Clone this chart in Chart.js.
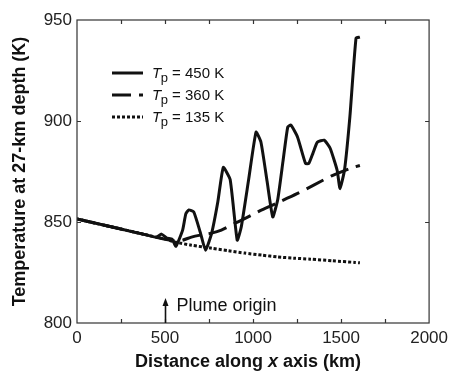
<!DOCTYPE html>
<html>
<head>
<meta charset="utf-8">
<script src="https://cdn.jsdelivr.net/npm/chart.js@4.4.0/dist/chart.umd.min.js"></script>
<style>
  html, body { margin: 0; padding: 0; background: #fff; }
  #wrap { width: 453px; height: 375px; }
</style>
</head>
<body>
<div id="wrap"><canvas id="tempChart" width="453" height="375"></canvas></div>
<script>
// axis ticks
var xTicks = [0, 500, 1000, 1500, 2000];
var yTicks = [800, 850, 900, 950];
var minorStep = 250;
var plumeOrigin = 500;

// legend labels (Tp values)
var seriesLabels = ['450 K', '360 K', '135 K'];

// Tp = 450 K
var dist450 = [0, 100, 200, 300, 400, 450, 480, 510, 540, 562, 600, 618, 635, 663, 700, 730, 765, 800, 831, 870, 910, 933, 975, 1017, 1045, 1080, 1112, 1140, 1170, 1197, 1215, 1253, 1298, 1317, 1340, 1365, 1404, 1438, 1478, 1494, 1520, 1550, 1585, 1607];
var temp450 = [851.5, 849.5, 847.5, 845.5, 843.5, 842.5, 844, 842, 841.5, 838, 846, 854, 856, 855, 845, 836, 844.5, 860, 877, 871, 841, 847.5, 871, 894.5, 889.5, 870, 852.5, 861, 880, 897, 898, 892, 879, 879, 884, 889.5, 890.5, 886.5, 875.5, 866.5, 876, 902, 941, 941.5];

// Tp = 360 K
var dist360 = [0, 200, 400, 500, 560, 600, 650, 700, 765, 820, 900, 972, 1050, 1140, 1250, 1350, 1450, 1550, 1607];
var temp360 = [851.5, 847.5, 843.5, 841.5, 840.5, 841, 842.5, 843.5, 844.5, 846, 849.5, 852.5, 856, 859.5, 864, 868.5, 873, 876.5, 878];

// Tp = 135 K
var dist135 = [0, 200, 400, 450, 500, 562, 650, 766, 860, 953, 1050, 1140, 1230, 1326, 1450, 1579, 1607];
var temp135 = [851.5, 847.5, 843.5, 842.5, 841.5, 840, 838.5, 837, 835.8, 834.6, 833.6, 832.7, 832.1, 831.6, 830.8, 830, 829.8];

var FONT = '"Liberation Sans", Arial, Helvetica, sans-serif';
var INK = '#111';

function toPoints(xs, ys) {
    var pts = [];
    for (var i = 0; i < xs.length; i++) {
        pts.push({x: xs[i], y: ys[i]});
    }
    return pts;
}

var dashes = [[], [19, 8], [3, 2]];

var extras = {
    id: 'extras',
    afterDatasetsDraw: function(chart) {
        var ctx = chart.ctx;
        var a = chart.chartArea;
        var sx = chart.scales.x;
        var sy = chart.scales.y;
        ctx.save();

        // frame
        ctx.strokeStyle = '#333';
        ctx.lineWidth = 1.2;
        ctx.setLineDash([]);
        ctx.strokeRect(a.left, a.top, a.right - a.left, a.bottom - a.top);

        // inward ticks on all four sides
        ctx.beginPath();
        for (var v = sx.min + minorStep; v < sx.max; v += minorStep) {
            var px = Math.round(sx.getPixelForValue(v)) + 0.5;
            ctx.moveTo(px, a.bottom); ctx.lineTo(px, a.bottom - 4);
            ctx.moveTo(px, a.top); ctx.lineTo(px, a.top + 4);
        }
        yTicks.slice(1, -1).forEach(function(t) {
            var py = Math.round(sy.getPixelForValue(t)) + 0.5;
            ctx.moveTo(a.left, py); ctx.lineTo(a.left + 4, py);
            ctx.moveTo(a.right, py); ctx.lineTo(a.right - 4, py);
        });
        ctx.stroke();

        // legend
        ctx.fillStyle = INK;
        ctx.strokeStyle = INK;
        ctx.textBaseline = 'alphabetic';
        for (var i = 0; i < seriesLabels.length; i++) {
            var ly = a.top + 53 + i * 22;
            ctx.lineWidth = 3;
            ctx.setLineDash(dashes[i]);
            ctx.beginPath();
            ctx.moveTo(a.left + 35, ly);
            ctx.lineTo(a.left + 66, ly);
            ctx.stroke();
            ctx.setLineDash([]);
            var tx = a.left + 75;
            ctx.font = 'italic 15px ' + FONT;
            ctx.fillText('T', tx, ly + 5);
            tx += ctx.measureText('T').width - 0.5;
            ctx.font = '13px ' + FONT;
            ctx.fillText('p', tx, ly + 9);
            tx += ctx.measureText('p').width;
            ctx.font = '15px ' + FONT;
            ctx.fillText(' = ' + seriesLabels[i], tx, ly + 5);
        }

        // plume origin arrow
        var ax = Math.round(sx.getPixelForValue(plumeOrigin)) + 0.5;
        ctx.lineWidth = 1.6;
        ctx.beginPath();
        ctx.moveTo(ax, a.bottom);
        ctx.lineTo(ax, a.bottom - 18);
        ctx.stroke();
        ctx.beginPath();
        ctx.moveTo(ax, a.bottom - 25);
        ctx.lineTo(ax - 3, a.bottom - 17);
        ctx.lineTo(ax + 3, a.bottom - 17);
        ctx.closePath();
        ctx.fill();
        ctx.font = '18px ' + FONT;
        ctx.fillText('Plume origin', ax + 11, a.bottom - 12);

        // x axis title with italic x
        var parts = [['Distance along ', 'bold'], ['x', 'italic bold'], [' axis (km)', 'bold']];
        var total = 0;
        parts.forEach(function(p) {
            ctx.font = p[1] + ' 18px ' + FONT;
            total += ctx.measureText(p[0]).width;
        });
        var cx = (a.left + a.right) / 2 - 5 - total / 2;
        ctx.textBaseline = 'middle';
        parts.forEach(function(p) {
            ctx.font = p[1] + ' 18px ' + FONT;
            ctx.fillText(p[0], cx, 362);
            cx += ctx.measureText(p[0]).width;
        });
        ctx.restore();
    }
};

var ctx = document.getElementById('tempChart').getContext('2d');
new Chart(ctx, {
    type: 'line',
    data: {
        datasets: [{
            label: 'Tp = 450 K',
            data: toPoints(dist450, temp450),
            borderColor: INK,
            borderWidth: 3,
            borderJoinStyle: 'round',
            tension: 0.15
        }, {
            label: 'Tp = 360 K',
            data: toPoints(dist360, temp360),
            borderColor: INK,
            borderWidth: 3,
            borderDash: dashes[1],
            tension: 0.2
        }, {
            label: 'Tp = 135 K',
            data: toPoints(dist135, temp135),
            borderColor: INK,
            borderWidth: 3,
            borderDash: dashes[2],
            tension: 0.2
        }]
    },
    options: {
        responsive: false,
        animation: false,
        events: [],
        layout: { padding: { top: 20, right: 20, left: 0, bottom: 0 } },
        elements: { point: { radius: 0 } },
        plugins: {
            legend: { display: false },
            tooltip: { enabled: false }
        },
        scales: {
            x: {
                type: 'linear',
                min: xTicks[0],
                max: xTicks[xTicks.length - 1],
                afterBuildTicks: function(s) {
                    s.ticks = xTicks.map(function(v) { return {value: v}; });
                },
                ticks: {
                    padding: 5, maxRotation: 0, color: '#222',
                    font: { family: FONT, size: 17 },
                    callback: function(v) { return String(v); }
                },
                grid: { display: false, drawTicks: false },
                border: { display: false },
                afterFit: function(s) { s.height = 52; }
            },
            y: {
                min: yTicks[0],
                max: yTicks[yTicks.length - 1],
                afterBuildTicks: function(s) {
                    s.ticks = yTicks.map(function(v) { return {value: v}; });
                },
                ticks: {
                    padding: 5, color: '#222',
                    font: { family: FONT, size: 17 },
                    callback: function(v) { return String(v); }
                },
                grid: { display: false, drawTicks: false },
                border: { display: false },
                title: {
                    display: true,
                    text: 'Temperature at 27-km depth (K)',
                    color: INK,
                    font: { family: FONT, size: 18, weight: 'bold' },
                    padding: { top: 9, bottom: 0 }
                },
                afterFit: function(s) { s.width = 77; }
            }
        }
    },
    plugins: [extras]
});
</script>
</body>
</html>
